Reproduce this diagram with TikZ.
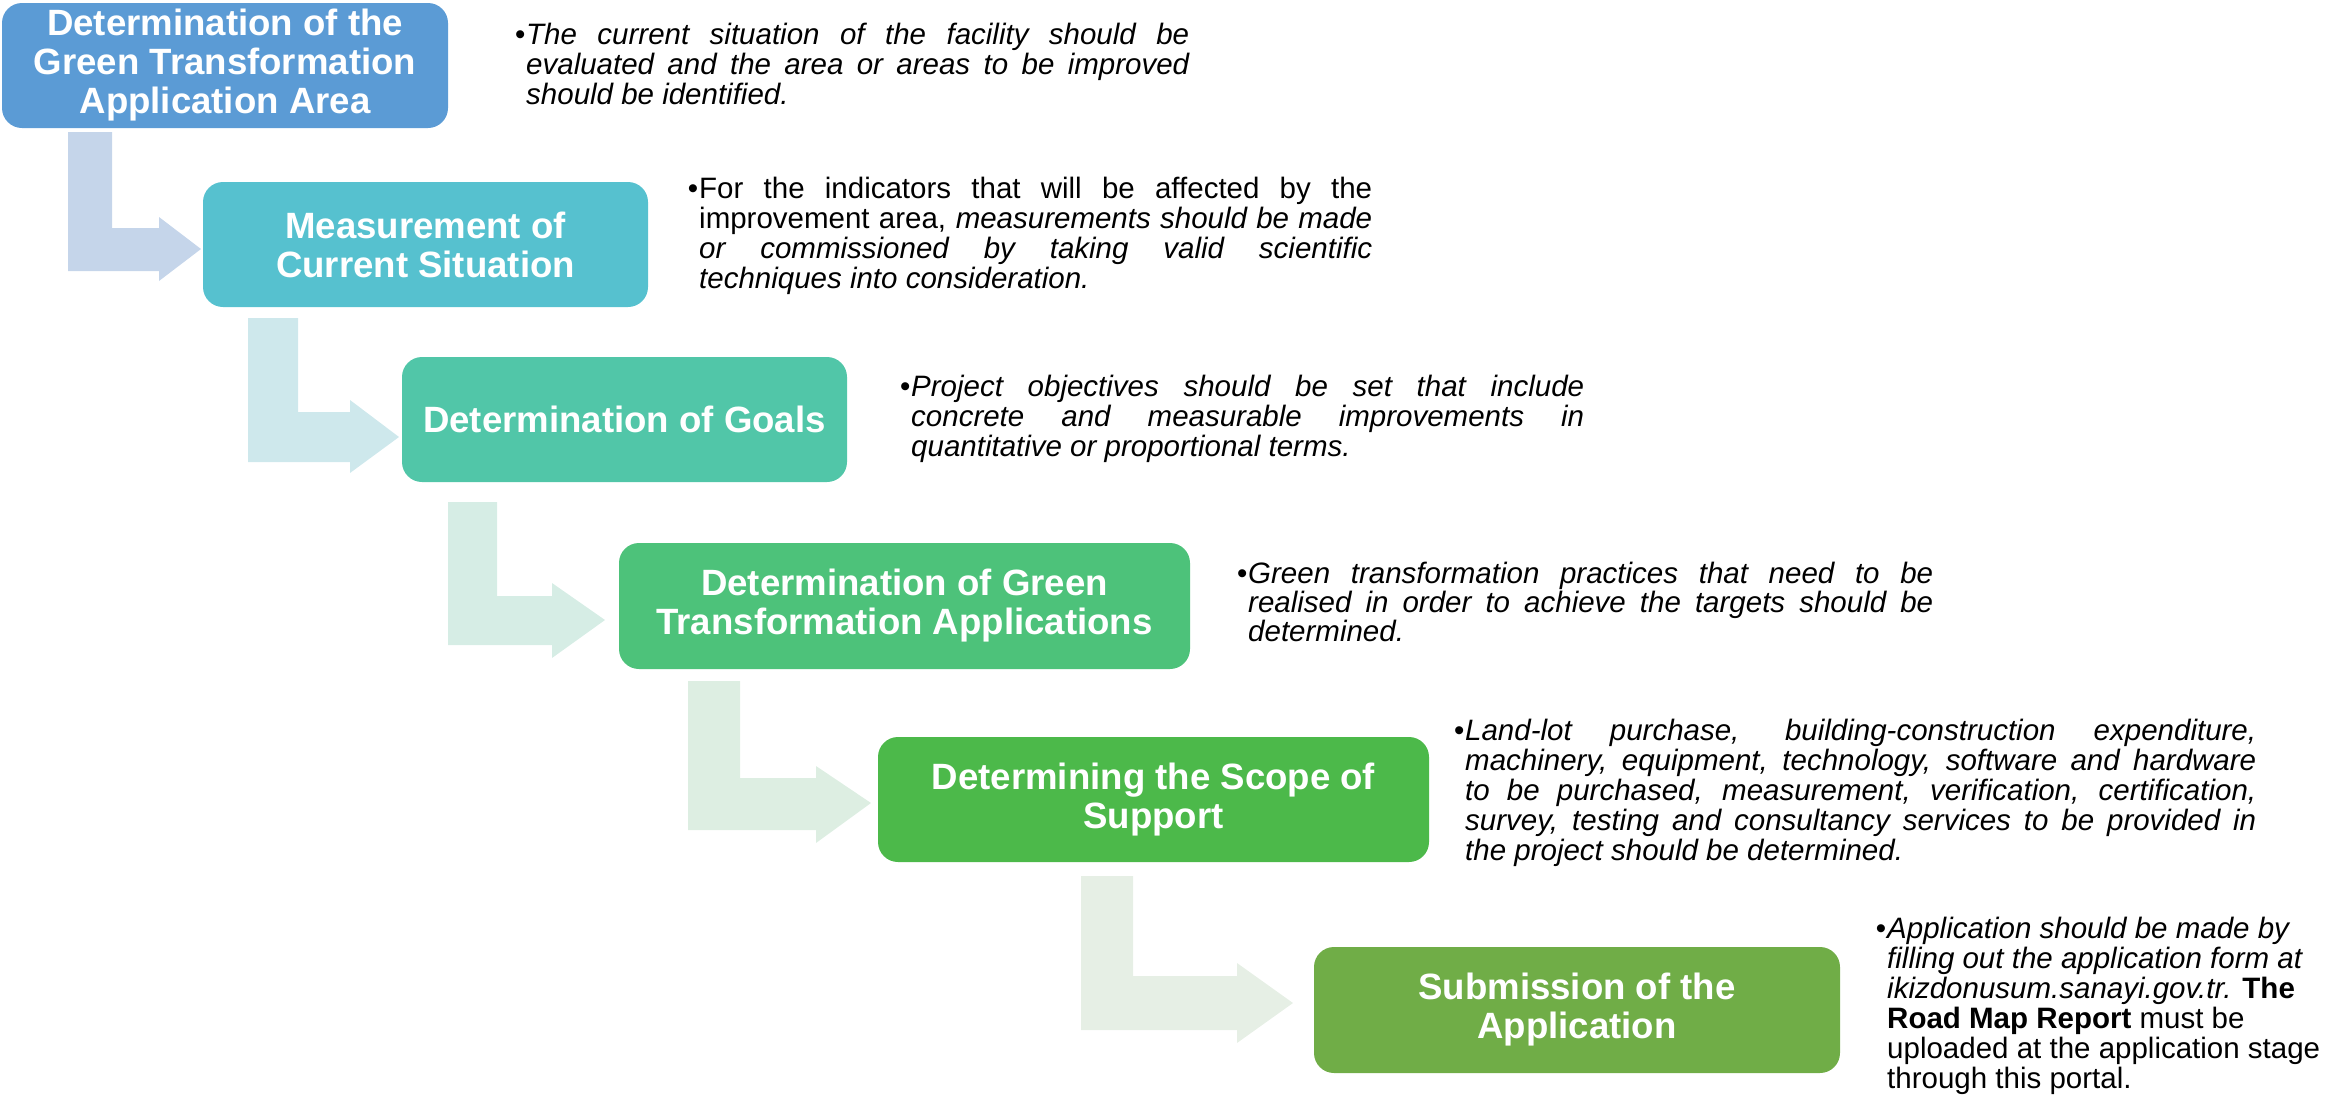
\documentclass[tikz,border=0pt]{standalone}
\usepackage{fontspec}
\setmainfont{Liberation Sans}
\definecolor{cb1}{HTML}{5B9BD5}
\definecolor{cb2}{HTML}{56C1CF}
\definecolor{cb3}{HTML}{51C6A8}
\definecolor{cb4}{HTML}{4DC27A}
\definecolor{cb5}{HTML}{4CB94A}
\definecolor{cb6}{HTML}{70AD47}
\definecolor{ca1}{HTML}{C5D5EA}
\definecolor{ca2}{HTML}{CEE8EC}
\definecolor{ca3}{HTML}{D6EDE5}
\definecolor{ca4}{HTML}{DDEEE2}
\definecolor{ca5}{HTML}{E6EFE5}
\newcommand{\titlefnt}{\fontsize{36.6pt}{39pt}\selectfont\bfseries}
\newcommand{\descfnt}{\fontsize{29.5pt}{30pt}\selectfont}
\newcommand{\jl}[1]{\makebox[\linewidth][s]{#1}\\}
\newcommand{\bul}{\leavevmode\llap{\textbullet\hspace{1pt}}}
\tikzset{
  stepbox/.style={fill=#1, draw=none, rounded corners=20pt, inner sep=0pt,
    text=white, align=center, font=\titlefnt},
  bentarrow/.style={fill=#1, draw=none},
  desc/.style={inner sep=0pt, anchor=base west, font=\descfnt, text=black}
}
\begin{document}
\begin{tikzpicture}[x=1pt, y=-1pt]
\useasboundingbox (0,0) rectangle (2346,1095);
% bent block arrows
\fill[bentarrow=ca1] (68,132) -- (112,132) -- (112,228) -- (159,228) -- (159,217) -- (201,249) -- (159,281) -- (159,271) -- (68,271) -- cycle;
\fill[bentarrow=ca2] (248,318) -- (298,318) -- (298,412) -- (350,412) -- (350,400) -- (399,437) -- (350,473) -- (350,462) -- (248,462) -- cycle;
\fill[bentarrow=ca3] (448,502) -- (497,502) -- (497,596) -- (552,596) -- (552,583) -- (605,620) -- (552,658) -- (552,645) -- (448,645) -- cycle;
\fill[bentarrow=ca4] (688,681) -- (740,681) -- (740,778) -- (816,778) -- (816,766) -- (871,803) -- (816,843) -- (816,830) -- (688,830) -- cycle;
\fill[bentarrow=ca5] (1081,876) -- (1133,876) -- (1133,976) -- (1237,976) -- (1237,963) -- (1293,1003) -- (1237,1043) -- (1237,1030) -- (1081,1030) -- cycle;
% boxes
\node[stepbox=cb1, minimum width=446pt, minimum height=125pt] (b1) at (225,65.5) {Determination of the\\Green Transformation\\Application Area};
\node[stepbox=cb2, minimum width=445pt, minimum height=125pt] (b2) at (425.5,244.5) {Measurement of\\Current Situation};
\node[stepbox=cb3, minimum width=445pt, minimum height=125pt] (b3) at (624.5,419.5) {Determination of Goals};
\node[stepbox=cb4, minimum width=571pt, minimum height=126pt] (b4) at (904.5,606) {Determination of Green\\Transformation Applications};
\node[stepbox=cb5, minimum width=551pt, minimum height=125pt] (b5) at (1153.5,799.5) {Determining the Scope of\\Support};
\node[stepbox=cb6, minimum width=526pt, minimum height=126pt] (b6) at (1577,1010) {Submission of the\\Application};
% descriptions
\node[desc] (t1) at (526,44) {\parbox[t]{663pt}{\itshape\bul\jl{The current situation of the facility should be}\jl{evaluated and the area or areas to be improved}should be identified.}};
\node[desc] (t2) at (699,198) {\parbox[t]{673pt}{\bul\jl{For the indicators that will be affected by the}\jl{improvement area, \textit{measurements should be made}}\jl{\textit{or commissioned by taking valid scientific}}\textit{techniques into consideration.}}};
\node[desc] (t3) at (911,396) {\parbox[t]{673pt}{\itshape\bul\jl{Project objectives should be set that include}\jl{concrete and measurable improvements in}quantitative or proportional terms.}};
\node[desc] (t4) at (1248,583) {\parbox[t]{685pt}{\fontsize{29.5pt}{29pt}\selectfont\itshape\bul\jl{Green transformation practices that need to be}\jl{realised in order to achieve the targets should be}determined.}};
\node[desc] (t5) at (1465,740) {\parbox[t]{791pt}{\itshape\bul\jl{Land-lot purchase, building-construction expenditure,}\jl{machinery, equipment, technology, software and hardware}\jl{to be purchased, measurement, verification, certification,}\jl{survey, testing and consultancy services to be provided in}the project should be determined.}};
\node[desc] (t6) at (1887,938) {\parbox[t]{445pt}{\bul\textit{Application should be made by}\\\textit{filling out the application form at}\\\textit{ikizdonusum.sanayi.gov.tr.} \textbf{The}\\\textbf{Road Map Report} must be\\uploaded at the application stage\\through this portal.}};
\end{tikzpicture}
\end{document}
